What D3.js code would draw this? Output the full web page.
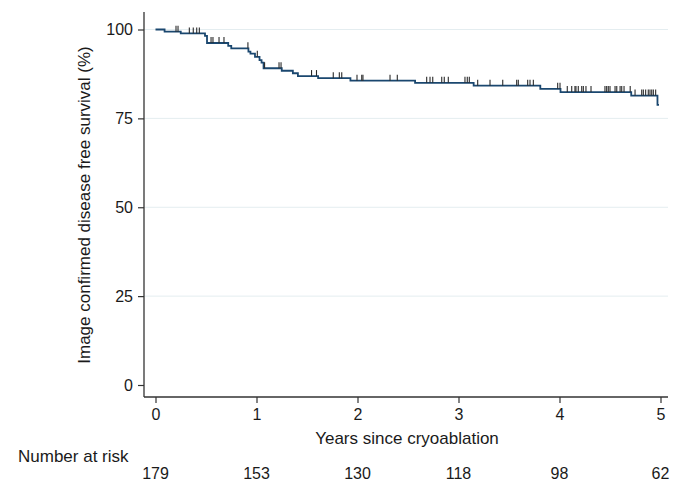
<!DOCTYPE html>
<html>
<head>
<meta charset="utf-8">
<script src="https://cdn.jsdelivr.net/npm/d3@7"></script>
<style>
  body { margin: 0; background: #fff; }
  text { font-family: "Liberation Sans", Arial, Helvetica, sans-serif; fill: #1a1a1a; }
</style>
</head>
<body>
<svg id="app" width="677" height="483"></svg>
<script>
// Kaplan-Meier steps: time (years) where the curve drops, and survival (%) after the drop
const stepTimes = [0, 0.09, 0.25, 0.49, 0.51, 0.72, 0.75, 0.92, 0.94, 0.985, 1.03, 1.05, 1.07,
  1.25, 1.36, 1.41, 1.61, 1.93, 2.57, 3.15, 3.81, 4.01, 4.71, 4.97]
const stepSurv = [100, 99.4, 98.9, 98.2, 96.2, 95.4, 94.7, 93.8, 93.2, 92.3, 91.4, 90.7, 89.1,
  88.4, 87.7, 86.9, 86.3, 85.6, 85.0, 84.2, 83.3, 82.4, 81.4, 78.8]
const endTime = 4.985

// censored observations (years)
const censorTimes = [0.203, 0.223, 0.335, 0.374, 0.408, 0.434, 0.55, 0.569, 0.629, 0.678,
  0.915, 1.008, 1.08, 1.223, 1.243, 1.545, 1.594, 1.76, 1.82, 1.844, 1.995, 2.042, 2.054,
  2.322, 2.394, 2.685, 2.718, 2.745, 2.834, 2.859, 2.899, 3.064, 3.087, 3.107, 3.19, 3.312,
  3.438, 3.576, 3.592, 3.685, 3.708, 3.741, 3.982, 4.005, 4.077, 4.121, 4.153, 4.163, 4.186,
  4.22, 4.236, 4.262, 4.312, 4.45, 4.467, 4.483, 4.5, 4.55, 4.567, 4.6, 4.616, 4.639, 4.70,
  4.748, 4.814, 4.83, 4.853, 4.879, 4.896, 4.913, 4.929, 4.952]

const xTicks = [0, 1, 2, 3, 4, 5]
const yTicks = [0, 25, 50, 75, 100]
const gridTicks = [25, 50, 75, 100]
const atRisk = [179, 153, 130, 118, 98, 62]

const svg = d3.select("#app")

const xScale = d3.scaleLinear().domain([0, 5]).range([155.5, 660.5])
const yScale = d3.scaleLinear().domain([0, 100]).range([385, 29.5])

const AXIS_X = 144     // y轴位置
const AXIS_Y = 397     // x轴位置
const RIGHT = 668
const TOP = 12

// 网格线
svg.append("g")
  .selectAll("line")
  .data(gridTicks)
  .enter()
  .append("line")
  .attr("x1", AXIS_X)
  .attr("x2", RIGHT)
  .attr("y1", d => yScale(d))
  .attr("y2", d => yScale(d))
  .attr("stroke", "#e4edf0")
  .attr("stroke-width", 1)

// y axis
const yAxis = d3.axisLeft(yScale).tickValues(yTicks).tickSize(6).tickPadding(5)
const gy = svg.append("g")
  .attr("transform", `translate(${AXIS_X},0)`)
  .call(yAxis)
gy.select(".domain").remove()
gy.append("line")
  .attr("y1", TOP).attr("y2", AXIS_Y)
  .attr("stroke", "#333").attr("stroke-width", 1.3)

// x axis
const xAxis = d3.axisBottom(xScale).tickValues(xTicks).tickFormat(d3.format("d")).tickSize(6).tickPadding(6)
const gx = svg.append("g")
  .attr("transform", `translate(0,${AXIS_Y})`)
  .call(xAxis)
gx.select(".domain").remove()
gx.append("line")
  .attr("x1", AXIS_X).attr("x2", RIGHT)
  .attr("stroke", "#333").attr("stroke-width", 1.3)

svg.selectAll(".tick line").attr("stroke", "#333").attr("stroke-width", 1.2)
svg.selectAll(".tick text")
  .style("font-size", "16px")
  .style("font-family", "'Liberation Sans', Arial, sans-serif")
  .attr("fill", "#1a1a1a")

// 标题
svg.append("text")
  .attr("transform", "translate(90,205) rotate(-90)")
  .attr("text-anchor", "middle")
  .style("font-size", "17px")
  .text("Image confirmed disease free survival (%)")

svg.append("text")
  .attr("x", 407)
  .attr("y", 444)
  .attr("text-anchor", "middle")
  .style("font-size", "17px")
  .text("Years since cryoablation")

// number at risk table
svg.append("text")
  .attr("x", 18)
  .attr("y", 462)
  .style("font-size", "17px")
  .text("Number at risk")

svg.append("g")
  .selectAll("text")
  .data(atRisk)
  .enter()
  .append("text")
  .attr("x", (d, i) => xScale(xTicks[i]))
  .attr("y", 479)
  .attr("text-anchor", "middle")
  .style("font-size", "16px")
  .text(d => d)

// survival curve
const points = stepTimes.map((t, i) => [t, stepSurv[i]])
points.push([endTime, stepSurv[stepSurv.length - 1]])

const line = d3.line()
  .x(d => xScale(d[0]))
  .y(d => yScale(d[1]))
  .curve(d3.curveStepAfter)

svg.append("path")
  .datum(points)
  .attr("d", line)
  .attr("fill", "none")
  .attr("stroke", "#1a476f")
  .attr("stroke-width", 1.8)

// 删失标记
function survAt(t) {
  const i = d3.bisectRight(stepTimes, t) - 1
  return stepSurv[Math.max(i, 0)]
}

svg.append("g")
  .selectAll("line")
  .data(censorTimes)
  .enter()
  .append("line")
  .attr("x1", d => xScale(d))
  .attr("x2", d => xScale(d))
  .attr("y1", d => yScale(survAt(d)))
  .attr("y2", d => yScale(survAt(d)) - 6)
  .attr("stroke", "#2a2a2a")
  .attr("stroke-width", 1.1)
</script>
</body>
</html>
